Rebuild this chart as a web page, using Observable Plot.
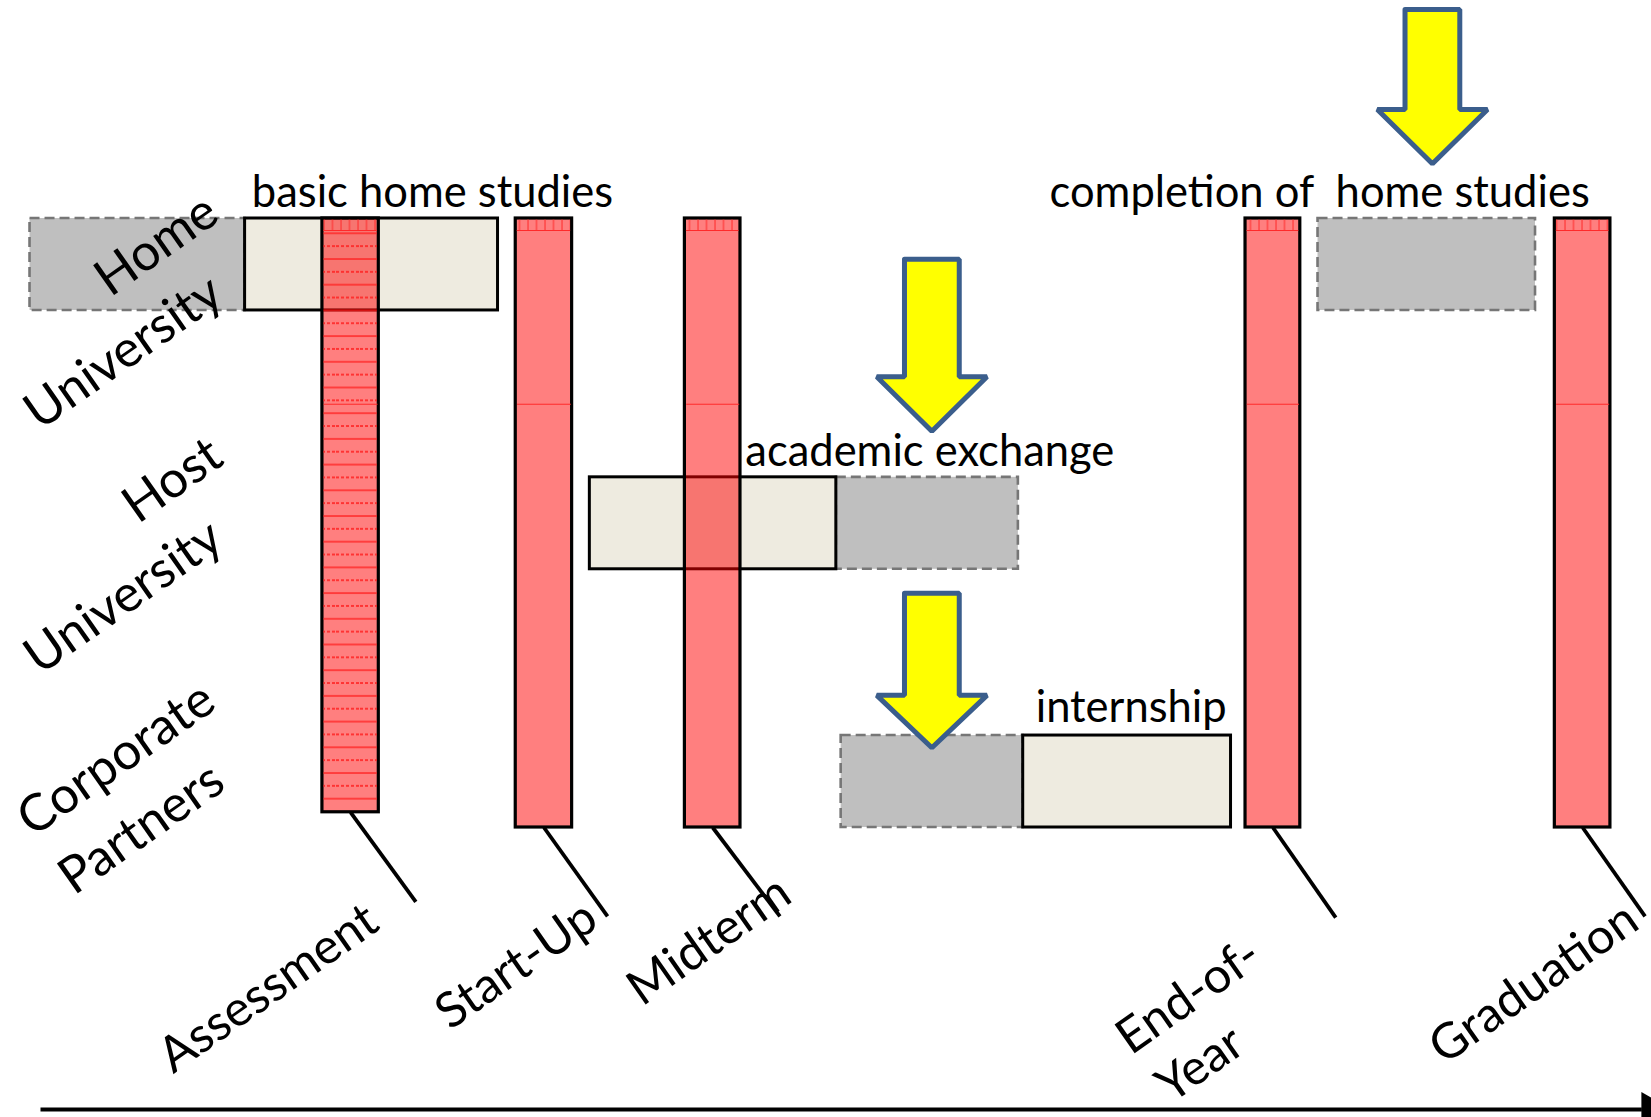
<!DOCTYPE html>
<html><head><meta charset="utf-8">
<script src="https://cdn.jsdelivr.net/npm/d3@7"></script>
<script src="https://cdn.jsdelivr.net/npm/@observablehq/plot@0.6"></script>
<style>html,body{margin:0;padding:0;background:#fff;overflow:hidden}</style>
</head><body><div id="chart"></div>
<script>
// Horizontal axis t: programme time (0 = start of timeline, 100 = right edge)
// Vertical axis v: 0 = top of the Home row, 100 = bottom of the Corporate row

// ---- phases (boxes) ----
const periodRow   = [0, 0, 1, 1, 2, 2, 0];
const periodStart = [-0.65, 12.7, 34.1, 49.4, 49.7, 61.0, 79.3];
const periodEnd   = [12.7, 28.4, 49.4, 60.7, 61.0, 73.9, 92.8];
const periodKind  = ["open", "core", "core", "open", "open", "core", "open"];
const rowTop      = [0, 42.5, 84.9];
const rowBottom   = [15.1, 57.6, 100];

// ---- milestones (red bars) ----
const milestoneNames  = ["Assessment", "Start-Up", "Midterm", "End-of-Year", "Graduation"];
const milestoneStart  = [17.5, 29.5, 40.0, 74.8, 94.0];
const milestoneEnd    = [21.0, 33.0, 43.45, 78.2, 97.45];
const milestoneBottom = [97.5, 100, 100, 100, 100];
const leaderEndT      = [23.3, 35.2, 45.9, 80.4, 99.6];
const leaderEndV      = [112.2, 114.6, 114.6, 114.8, 114.6];
const rowDivider      = 30.5;

// ---- milestone label lines ----
const milestoneLabelText = ["Assessment", "Start-Up", "Midterm", "End-of-", "Year", "Graduation"];
const milestoneLabelT    = [14.15, 29.55, 41.5, 71.26, 72.0, 92.7];
const milestoneLabelV    = [126.4, 122.6, 118.6, 127.7, 138.9, 125.6];

// ---- row label lines ----
const rowLabelText = ["Home", "University", "Host", "University", "Corporate", "Partners"];
const rowLabelT    = [7.2, 5.15, 8.2, 5.15, 4.7, 6.27];
const rowLabelV    = [4.4, 22.0, 43.0, 62.2, 88.8, 100.2];

// ---- phase annotations ----
const annotationText = ["basic home studies", "academic exchange", "internship", "completion of\u00a0 home studies"];
const annotationT    = [24.33, 55.2, 67.7, 79.4];
const annotationV    = [-4.2, 38.4, 80.4, -4.2];

// ---- block arrows ----
const arrowT    = [86.4, 55.33, 55.33];
const arrowTop  = [-34.3, 6.68, 61.54];
const arrowNeck = [-17.9, 26.0, 78.3];
const arrowTip  = [-9.0, 34.95, 86.9];

// ---- timeline ----
const timelineV = 146.3;
const timelineStart = 0;
const timelineEnd = 99.4;

// build tables
const periods = periodRow.map((r, i) => ({row: r, t0: periodStart[i], t1: periodEnd[i], kind: periodKind[i], v0: rowTop[r], v1: rowBottom[r]}));
const milestones = milestoneNames.map((n, i) => ({name: n, t0: milestoneStart[i], t1: milestoneEnd[i], bottom: milestoneBottom[i],
  tc: (milestoneStart[i] + milestoneEnd[i]) / 2, lt: leaderEndT[i], lv: leaderEndV[i]}));
const mLabels = milestoneLabelText.map((s, i) => ({s, t: milestoneLabelT[i], v: milestoneLabelV[i]}));
const rLabels = rowLabelText.map((s, i) => ({s, t: rowLabelT[i], v: rowLabelV[i]}));
const annotations = annotationText.map((s, i) => ({s, t: annotationT[i], v: annotationV[i]}));
const SH = 1.7, HH = 3.42;
const arrowPts = [];
arrowT.forEach((c, i) => {
  const pts = [[c - SH, arrowTop[i]], [c + SH, arrowTop[i]], [c + SH, arrowNeck[i]], [c + HH, arrowNeck[i]],
               [c, arrowTip[i]], [c - HH, arrowNeck[i]], [c - SH, arrowNeck[i]], [c - SH, arrowTop[i]]];
  pts.forEach(([t, v]) => arrowPts.push({id: i, t, v}));
});

// texture of the bars: striped Assessment bar and small grid at the top of every bar
function barTexture(index, scales) {
  const g = d3.create("svg:g");
  const defs = g.append("defs");
  const p = defs.append("pattern").attr("id", "asmt-stripes")
    .attr("patternUnits", "userSpaceOnUse").attr("width", 24).attr("height", 25.7);
  p.append("line").attr("x1", 0).attr("x2", 24).attr("y1", 2).attr("y2", 2)
    .attr("stroke", "#ff1a1a").attr("stroke-width", 1.3);
  p.append("line").attr("x1", 0).attr("x2", 24).attr("y1", 14.85).attr("y2", 14.85)
    .attr("stroke", "#ff1a1a").attr("stroke-width", 1.3).attr("stroke-dasharray", "3,2");
  const q = defs.append("pattern").attr("id", "bar-top")
    .attr("patternUnits", "userSpaceOnUse").attr("width", 8.5).attr("height", 40);
  q.append("line").attr("x1", 1).attr("x2", 1).attr("y1", 0).attr("y2", 40)
    .attr("stroke", "#ff2a2a").attr("stroke-width", 1);
  milestones.forEach((m, i) => {
    const x0 = scales.x(m.t0), x1 = scales.x(m.t1), y0 = scales.y(0), y1 = scales.y(m.bottom);
    g.append("rect").attr("x", x0 + 1.5).attr("width", x1 - x0 - 3).attr("y", y0 + 1.5).attr("height", 11)
      .attr("fill", "url(#bar-top)");
    g.append("line").attr("x1", x0 + 1.5).attr("x2", x1 - 1.5).attr("y1", y0 + 12.5).attr("y2", y0 + 12.5)
      .attr("stroke", "#ff2a2a").attr("stroke-width", 1);
    if (i === 0) {
      g.append("rect").attr("x", x0 + 1.5).attr("width", x1 - x0 - 3).attr("y", y0 + 13).attr("height", y1 - y0 - 15)
        .attr("fill", "url(#asmt-stripes)");
    }
  });
  return g.node();
}

const chart = Plot.plot({
  width: 1651, height: 1117,
  marginLeft: 40, marginRight: 0, marginTop: 218, marginBottom: 290,
  x: {domain: [0, 100], axis: null},
  y: {domain: [0, 100], reverse: true, axis: null},
  style: {fontFamily: "Lato, sans-serif", background: "#fff", color: "#000"},
  marks: [
    Plot.rect(periods.filter(d => d.kind === "open"), {x1: "t0", x2: "t1", y1: "v0", y2: "v1",
      fill: "#bfbfbf", stroke: "#767676", strokeWidth: 2.6, strokeDasharray: "10,5"}),
    Plot.rect(periods.filter(d => d.kind === "core"), {x1: "t0", x2: "t1", y1: "v0", y2: "v1",
      fill: "#eeebe0", stroke: "#000", strokeWidth: 3}),
    Plot.rect(milestones, {x1: "t0", x2: "t1", y1: () => 0, y2: "bottom",
      fill: "#ff0000", fillOpacity: 0.5, stroke: "#000", strokeWidth: 3.2}),
    Plot.link(milestones, {x1: d => d.t0 + 0.08, x2: d => d.t1 - 0.08, y1: () => rowDivider, y2: () => rowDivider,
      stroke: "#ff2a2a", strokeWidth: 1}),
    barTexture,
    Plot.link(milestones, {x1: "tc", y1: "bottom", x2: "lt", y2: "lv", stroke: "#000", strokeWidth: 3.8}),
    Plot.line(arrowPts, {x: "t", y: "v", z: "id", fill: "#ffff00", stroke: "#3b5e8c", strokeWidth: 5,
      strokeLinejoin: "miter", curve: "linear"}),
    Plot.text(rLabels, {x: "t", y: "v", text: "s", rotate: -35, fontSize: 51, fill: "#000"}),
    Plot.text(annotations, {x: "t", y: "v", text: "s", fontSize: 43.5, fill: "#000"}),
    Plot.text(mLabels, {x: "t", y: "v", text: "s", rotate: -35, fontSize: 49, fill: "#000"}),
    Plot.link([{a: timelineStart, b: timelineEnd}], {x1: "a", x2: "b", y1: () => timelineV, y2: () => timelineV,
      stroke: "#000", strokeWidth: 4}),
    Plot.dot([{a: 100}], {x: "a", y: () => timelineV, symbol: "triangle", rotate: 90, r: 13, fill: "#000", stroke: "none"})
  ]
});
document.getElementById("chart").appendChild(chart);
</script>
</body></html>
